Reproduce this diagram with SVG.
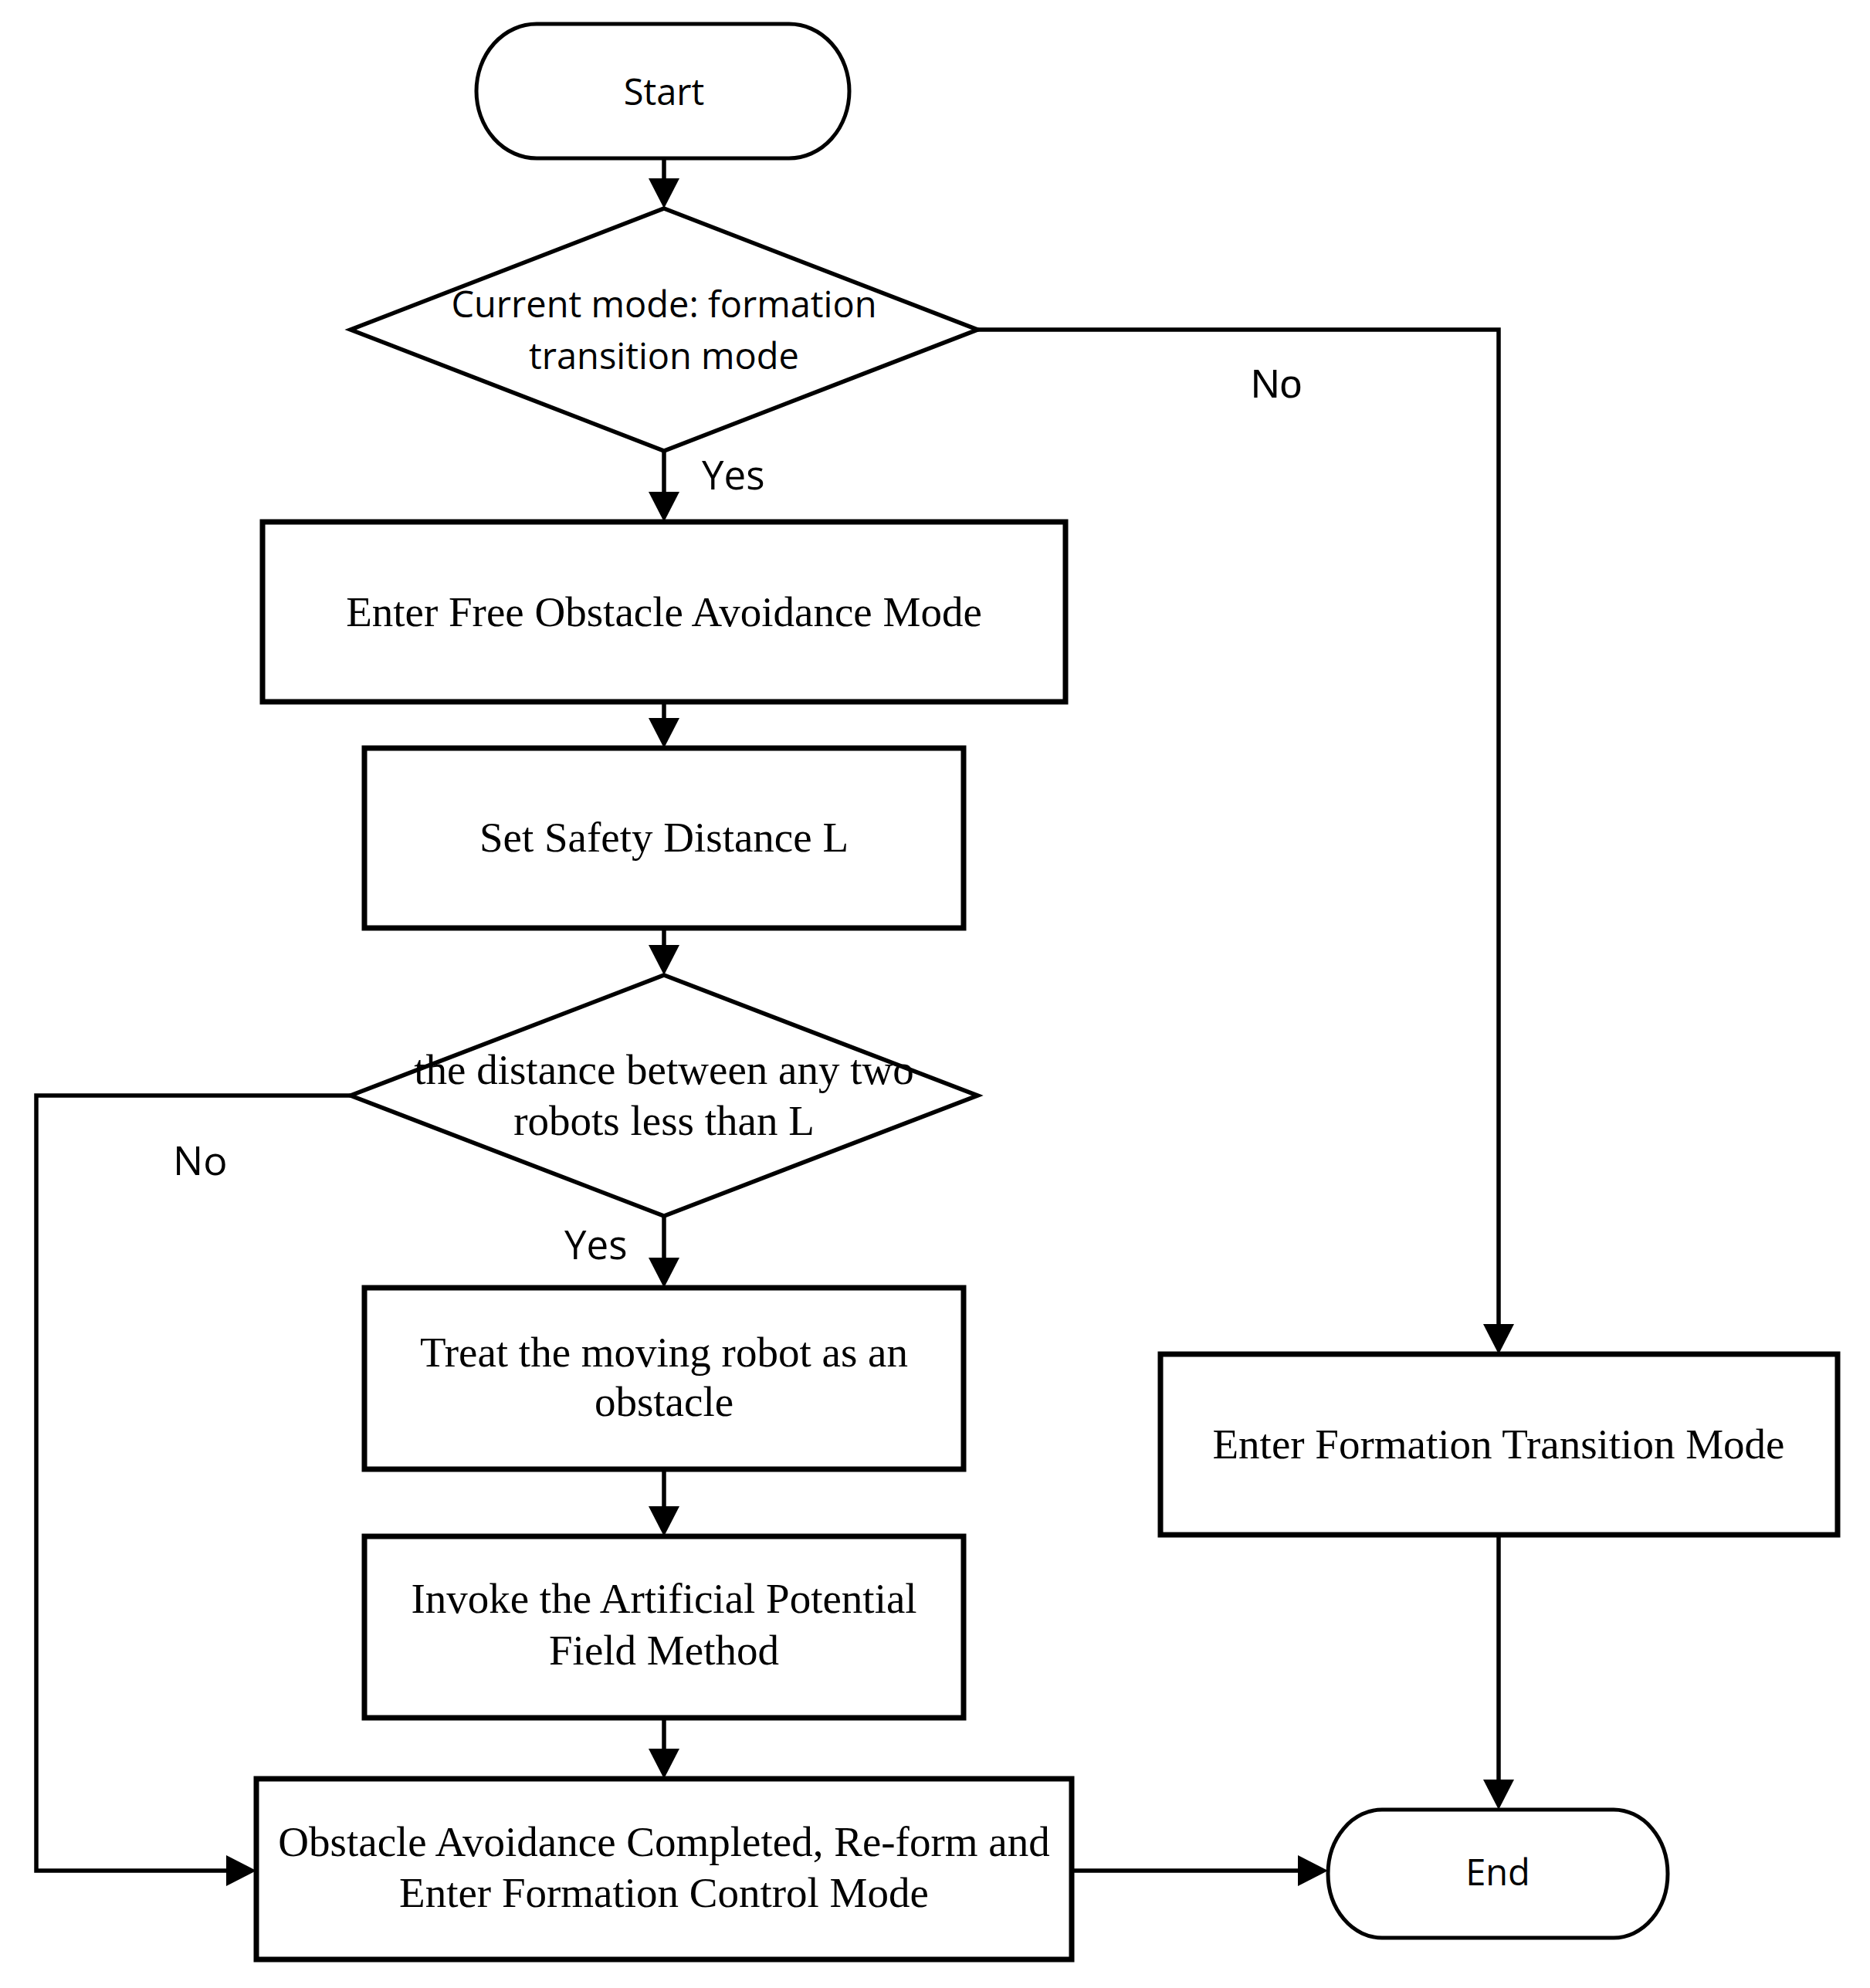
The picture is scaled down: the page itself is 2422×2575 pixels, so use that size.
<svg xmlns="http://www.w3.org/2000/svg" width="2422" height="2575" viewBox="0 0 2422 2575">
<style>
.box{fill:#fff;stroke:#000;stroke-width:7}
.dia{fill:#fff;stroke:#000;stroke-width:5.5;stroke-linejoin:miter}
.term{fill:#fff;stroke:#000;stroke-width:5}
.con{fill:none;stroke:#000;stroke-width:5.5}
.serif{font-family:"Liberation Serif","Times New Roman",serif;font-size:55px;fill:#000;text-anchor:middle}
.sans{font-family:"Open Sans","Noto Sans",sans-serif;font-size:47px;fill:#000;text-anchor:middle}
.lbl{font-family:"Open Sans","Noto Sans",sans-serif;font-size:51px;fill:#000}
.lbl2{font-family:"Liberation Sans",Arial,sans-serif;font-size:52px;fill:#000}
</style>
<defs>
<marker id="arr" markerUnits="userSpaceOnUse" markerWidth="42" markerHeight="42" refX="1" refY="20" orient="auto" viewBox="0 0 42 42">
<path d="M0,0 L39,20 L0,40 Z" fill="#000"/>
</marker>
</defs>
<rect width="2422" height="2575" fill="#fff"/>
<g id="connectors">
<path class="con" d="M860,205 V232" marker-end="url(#arr)"/>
<path class="con" d="M860,584 V638" marker-end="url(#arr)"/>
<path class="con" d="M860,909 V931" marker-end="url(#arr)"/>
<path class="con" d="M860,1202 V1225" marker-end="url(#arr)"/>
<path class="con" d="M860,1575 V1630" marker-end="url(#arr)"/>
<path class="con" d="M860,1903 V1952" marker-end="url(#arr)"/>
<path class="con" d="M860,2225 V2266" marker-end="url(#arr)"/>
<path class="con" d="M1266,427 H1941 V1716" marker-end="url(#arr)"/>
<path class="con" d="M454,1419 H47 V2423 H294" marker-end="url(#arr)"/>
<path class="con" d="M1388,2423 H1682" marker-end="url(#arr)"/>
<path class="con" d="M1941,1988 V2306" marker-end="url(#arr)"/>
</g>
<g id="labels">
<text class="lbl" x="909" y="634">Yes</text>
<text class="lbl" x="731" y="1631">Yes</text>
<text class="lbl2" x="1620" y="515">No</text>
<text class="lbl" x="224" y="1522" style="font-size:52px">No</text>
</g>
<g id="start">
<rect class="term" x="617" y="31" width="483" height="174" rx="78" ry="87"/>
<text class="sans" x="860" y="136">Start</text>
</g>
<g id="decision1">
<polygon class="dia" points="860,270 1266,427 860,584 454,427"/>
<text class="sans" x="860" y="411">Current mode: formation</text>
<text class="sans" x="860" y="478">transition mode</text>
</g>
<g id="box-free-avoid">
<rect class="box" x="340" y="676" width="1040" height="233"/>
<text class="serif" x="860" y="811">Enter Free Obstacle Avoidance Mode</text>
</g>
<g id="box-safety">
<rect class="box" x="472" y="969" width="776" height="233"/>
<text class="serif" x="860" y="1103">Set Safety Distance L</text>
</g>
<g id="decision2">
<polygon class="dia" points="860,1263 1266,1419 860,1575 454,1419"/>
<text class="serif" x="860" y="1404">the distance between any two</text>
<text class="serif" x="860" y="1470">robots less than L</text>
</g>
<g id="box-treat">
<rect class="box" x="472" y="1668" width="776" height="235"/>
<text class="serif" x="860" y="1770">Treat the moving robot as an</text>
<text class="serif" x="860" y="1834">obstacle</text>
</g>
<g id="box-apf">
<rect class="box" x="472" y="1990" width="776" height="235"/>
<text class="serif" x="860" y="2089">Invoke the Artificial Potential</text>
<text class="serif" x="860" y="2156">Field Method</text>
</g>
<g id="box-complete">
<rect class="box" x="332" y="2304" width="1056" height="234"/>
<text class="serif" x="860" y="2404">Obstacle Avoidance Completed, Re-form and</text>
<text class="serif" x="860" y="2470">Enter Formation Control Mode</text>
</g>
<g id="box-transition">
<rect class="box" x="1503" y="1754" width="877" height="234"/>
<text class="serif" x="1941" y="1889">Enter Formation Transition Mode</text>
</g>
<g id="end">
<rect class="term" x="1720" y="2344" width="440" height="166" rx="70" ry="83"/>
<text class="sans" x="1940" y="2442">End</text>
</g>
</svg>
